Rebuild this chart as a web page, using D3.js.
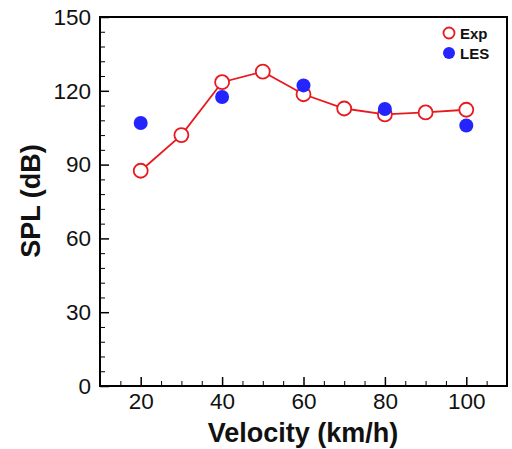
<!DOCTYPE html>
<html><head><meta charset="utf-8">
<script src="https://cdn.jsdelivr.net/npm/d3@7"></script>
<style>body{margin:0;background:#fff}</style>
</head><body>
<svg id="c" width="512" height="449"></svg>
<script>
const velocity = [20, 30, 40, 50, 60, 70, 80, 90, 100];
const expSPL = [87.5, 102, 123.5, 127.8, 118.6, 112.8, 110.4, 111.2, 112.3];
const lesVelocity = [20, 40, 60, 80, 100];
const lesSPL = [106.9, 117.5, 122.2, 112.6, 105.9];
const xTicks = [20, 40, 60, 80, 100];
const yTicks = [0, 30, 60, 90, 120, 150];

const svg = d3.select("#c");
const L = 100, R = 507, T = 17, B = 386;
const x = d3.scaleLinear().domain([10, 110]).range([L, R]);
const y = d3.scaleLinear().domain([0, 150]).range([B, T]);
const red = "#e8191f", blue = "#2424ff";
const font = "'Liberation Sans', Arial, sans-serif";

// frame
svg.append("rect").attr("x", L).attr("y", T).attr("width", R - L).attr("height", B - T)
  .attr("fill", "none").attr("stroke", "#000").attr("stroke-width", 2);

// x axis ticks (inward)
const xa = svg.append("g").attr("transform", `translate(0,${B})`)
  .call(d3.axisBottom(x).tickValues(xTicks).tickSizeInner(-9).tickSizeOuter(0).tickPadding(7));
xa.select(".domain").remove();
xa.selectAll("line").attr("stroke-width", 1.5);
xa.selectAll("text").attr("font-family", font).attr("font-size", 22.5).attr("fill", "#111");
const xm = svg.append("g").attr("transform", `translate(0,${B})`)
  .call(d3.axisBottom(x).tickValues(d3.range(15, 110, 5).filter(v => v % 20 !== 0)).tickSizeInner(-5).tickSizeOuter(0).tickFormat(""));
xm.select(".domain").remove();
xm.selectAll("line").attr("stroke-width", 1);

// y axis ticks (inward)
const ya = svg.append("g").attr("transform", `translate(${L},0)`)
  .call(d3.axisLeft(y).tickValues(yTicks).tickSizeInner(-9).tickSizeOuter(0).tickPadding(9));
ya.select(".domain").remove();
ya.selectAll("line").attr("stroke-width", 1.5);
ya.selectAll("text").attr("font-family", font).attr("font-size", 22.5).attr("fill", "#111");
const ym = svg.append("g").attr("transform", `translate(${L},0)`)
  .call(d3.axisLeft(y).tickValues(d3.range(6, 150, 6).filter(v => v % 30 !== 0)).tickSizeInner(-5).tickSizeOuter(0).tickFormat(""));
ym.select(".domain").remove();
ym.selectAll("line").attr("stroke-width", 1);

// titles
svg.append("text").attr("x", 303).attr("y", 442).attr("text-anchor", "middle")
  .attr("font-family", font).attr("font-weight", "bold").attr("font-size", 27).attr("fill", "#111")
  .text("Velocity (km/h)");
svg.append("text").attr("transform", "translate(40,201) rotate(-90)").attr("text-anchor", "middle")
  .attr("font-family", font).attr("font-weight", "bold").attr("font-size", 27).attr("fill", "#111")
  .text("SPL (dB)");

// Exp line + markers
const line = d3.line().x((d, i) => x(velocity[i])).y(d => y(d));
svg.append("path").datum(expSPL).attr("d", line).attr("fill", "none").attr("stroke", red).attr("stroke-width", 1.8);
svg.append("g").selectAll("circle").data(expSPL).join("circle")
  .attr("cx", (d, i) => x(velocity[i])).attr("cy", d => y(d)).attr("r", 7)
  .attr("fill", "#fff").attr("stroke", red).attr("stroke-width", 1.8);

// LES markers
svg.append("g").selectAll("circle").data(lesSPL).join("circle")
  .attr("cx", (d, i) => x(lesVelocity[i])).attr("cy", d => y(d)).attr("r", 7)
  .attr("fill", blue);

// legend
const lg = svg.append("g");
lg.append("circle").attr("cx", 449).attr("cy", 33).attr("r", 5.5).attr("fill", "#fff").attr("stroke", red).attr("stroke-width", 1.8);
lg.append("text").attr("x", 460).attr("y", 38.5).attr("font-family", font).attr("font-weight", "bold").attr("font-size", 15).attr("fill", "#111").text("Exp");
lg.append("circle").attr("cx", 449).attr("cy", 53).attr("r", 6).attr("fill", blue);
lg.append("text").attr("x", 460).attr("y", 58.5).attr("font-family", font).attr("font-weight", "bold").attr("font-size", 15).attr("fill", "#111").text("LES");
</script>
</body></html>
